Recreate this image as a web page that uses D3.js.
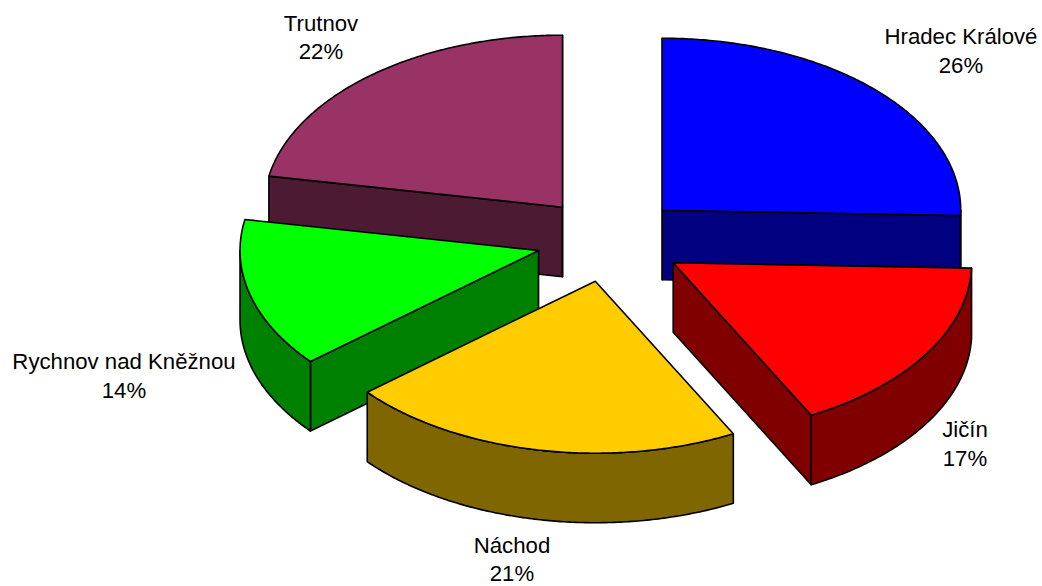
<!DOCTYPE html>
<html>
<head>
<meta charset="utf-8">
<script src="https://cdn.jsdelivr.net/npm/d3@7"></script>
<style>
html,body{margin:0;padding:0;background:#fff;overflow:hidden}
svg{display:block}
text{font-family:"Liberation Sans",Arial,sans-serif;font-size:22.2px;fill:#000;text-anchor:middle}
</style>
</head>
<body>
<svg id="chart" width="1042" height="586"></svg>
<script>
const categories = ["Hradec Králové", "Jičín", "Náchod", "Rychnov nad Kněžnou", "Trutnov"];
const shares = [25.5, 16.85, 21.49, 14.05, 22.11];
const explosions = [0.246, 0.252, 0.246, 0.246, 0.246];
const topColors = ["#0000ff", "#ff0000", "#ffcc00", "#00ff00", "#993366"];
const sideColors = ["#000080", "#800000", "#806600", "#008000", "#4d1a33"];
const paintOrder = [4, 0, 3, 1, 2];
const labelAnchors = [[961, 44], [965, 437], [512, 552.5], [124, 369], [321, 30.5]];

const W = 1042, H = 586;
const cx = 609.5, cy = 239.7, rx = 298.5, ry = 172, depth = 69.5;

// Unit-circle coordinates projected on the tilted pie plane
const x = d3.scaleLinear().domain([-1, 1]).range([cx - rx, cx + rx]);
const y = d3.scaleLinear().domain([-1, 1]).range([cy + ry, cy - ry]);

const svg = d3.select("#chart");
const pie = d3.pie().sort(null).value(d => d);
const arcs = pie(shares);

function geometry(d, explode) {
  const mid = (d.startAngle + d.endAngle) / 2;
  const ox = explode * Math.sin(mid), oy = explode * Math.cos(mid);
  return {
    px: (a, r) => x(ox + r * Math.sin(a)),
    py: (a, r, dz) => y(oy + r * Math.cos(a)) + dz
  };
}

const line = d3.line();
const stroke = sel => sel.attr("stroke", "#000").attr("stroke-width", 1.6).attr("stroke-linejoin", "round");

function arcPoints(g, a0, a1, dz) {
  const n = Math.max(2, Math.ceil((a1 - a0) / 0.01));
  return d3.range(n + 1).map(i => {
    const a = a0 + (a1 - a0) * i / n;
    return [g.px(a, 1), g.py(a, 1, dz)];
  });
}

paintOrder.forEach(i => {
  const d = arcs[i];
  const g = geometry(d, explosions[i]);
  const group = svg.append("g").attr("class", "slice");
  const apex = dz => [g.px(0, 0), g.py(0, 0, dz)];

  const face = a => group.append("path")
    .attr("d", line([apex(0), [g.px(a, 1), g.py(a, 1, 0)], [g.px(a, 1), g.py(a, 1, depth)], apex(depth)]) + "Z")
    .attr("fill", sideColors[i]).call(stroke);

  // cut faces: only those turned towards the viewer
  if (Math.sin(d.startAngle) <= 1e-6) face(d.startAngle);
  if (Math.sin(d.endAngle) >= -1e-6) face(d.endAngle);

  // outer wall: only the part turned towards the viewer
  const a0 = Math.max(d.startAngle, Math.PI / 2);
  const a1 = Math.min(d.endAngle, 3 * Math.PI / 2);
  if (a1 > a0) {
    const upper = arcPoints(g, a0, a1, 0);
    const lower = arcPoints(g, a0, a1, depth).reverse();
    group.append("path")
      .attr("d", line(upper.concat(lower)) + "Z")
      .attr("fill", sideColors[i]).call(stroke);
  }

  // top face
  const top = [apex(0)].concat(arcPoints(g, d.startAngle, d.endAngle, 0));
  group.append("path")
    .attr("d", line(top) + "Z")
    .attr("fill", topColors[i]).call(stroke);
});

// Labels
categories.forEach((c, i) => {
  const [lx, ly] = labelAnchors[i];
  const t = svg.append("text").attr("x", lx).attr("y", ly);
  t.append("tspan").attr("x", lx).text(c);
  t.append("tspan").attr("x", lx).attr("dy", 28.5).text(Math.round(shares[i]) + "%");
});
</script>
</body>
</html>
